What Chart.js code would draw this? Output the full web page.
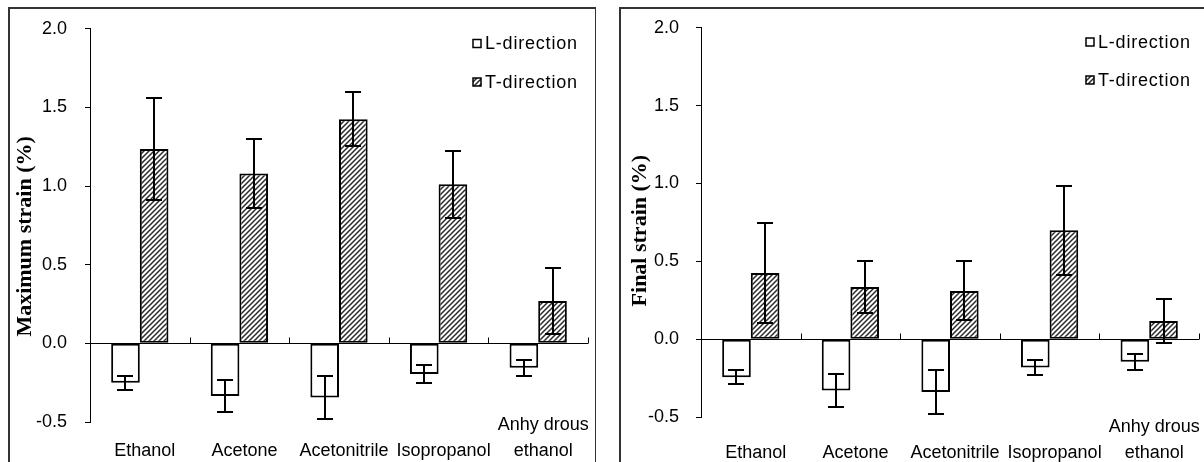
<!DOCTYPE html>
<html><head><meta charset="utf-8">
<script src="https://cdn.jsdelivr.net/npm/chart.js@4"></script>
<style>
html,body{margin:0;padding:0;background:#fff;width:1204px;height:462px;overflow:hidden;position:relative}
.panel{position:absolute;top:7px;height:520px;border-top:2px solid #333;border-left:2px solid #333;box-sizing:border-box}
#p1{left:8px;width:588px;border-right:1px solid #333}
#p2{left:619px;width:600px}
canvas{position:absolute;top:0}
#c1{left:0}
#c2{left:602px}
</style></head><body>
<div class="panel" id="p1"></div><div class="panel" id="p2"></div>
<canvas id="c1" width="602" height="462"></canvas>
<canvas id="c2" width="602" height="462"></canvas>
<script>
// ---- data ----
const categories = [['', 'Ethanol'], ['', 'Acetone'], ['', 'Acetonitrile'], ['', 'Isopropanol'], ['Anhy drous', 'ethanol']];
const seriesNames = ['L-direction', 'T-direction'];
const yTickLabels = ['-0.5', '0.0', '0.5', '1.0', '1.5', '2.0'];

const maxStrainL    = [-0.25, -0.335, -0.345, -0.195, -0.155];
const maxStrainLErr = [0.045, 0.103, 0.138, 0.055, 0.05];
const maxStrainT    = [1.235, 1.08, 1.425, 1.012, 0.27];
const maxStrainTErr = [0.322, 0.219, 0.173, 0.213, 0.21];

const finalStrainL    = [-0.245, -0.33, -0.34, -0.182, -0.145];
const finalStrainLErr = [0.045, 0.105, 0.14, 0.051, 0.052];
const finalStrainT    = [0.425, 0.335, 0.31, 0.70, 0.117];
const finalStrainTErr = [0.324, 0.169, 0.19, 0.285, 0.143];

// ---- styles ----
Chart.defaults.color = '#000';
const SANS = "'Liberation Sans', Arial, sans-serif";
const SERIF = "'Liberation Serif', 'Times New Roman', serif";

function makeHatch() {
  const c = document.createElement('canvas');
  c.width = 5; c.height = 5;
  const g = c.getContext('2d');
  g.fillStyle = '#fff'; g.fillRect(0, 0, 5, 5);
  g.strokeStyle = '#2a2a2a'; g.lineWidth = 1.5;
  g.beginPath();
  g.moveTo(-1, 6); g.lineTo(6, -1);
  g.moveTo(-1, 1); g.lineTo(1, -1);
  g.moveTo(4, 6); g.lineTo(6, 4);
  g.stroke();
  return g.createPattern(c, 'repeat');
}

const errorBars = {
  id: 'errorBars',
  afterDatasetsDraw(chart) {
    const { ctx, scales: { y } } = chart;
    ctx.save();
    ctx.strokeStyle = '#000'; ctx.lineWidth = 2;
    chart.data.datasets.forEach((ds, di) => {
      const meta = chart.getDatasetMeta(di);
      meta.data.forEach((bar, i) => {
        const v = ds.data[i], e = ds.errors[i];
        const yHi = Math.round(y.getPixelForValue(v + e));
        const yLo = Math.round(y.getPixelForValue(v - e));
        const x = Math.round(bar.x), hw = 8;
        ctx.beginPath();
        ctx.moveTo(x, yHi); ctx.lineTo(x, yLo);
        ctx.moveTo(x - hw, yHi); ctx.lineTo(x + hw, yHi);
        ctx.moveTo(x - hw, yLo); ctx.lineTo(x + hw, yLo);
        ctx.stroke();
      });
    });
    ctx.restore();
  }
};

const catTicks = {
  id: 'catTicks',
  afterDatasetsDraw(chart) {
    const { ctx, scales: { x, y } } = chart;
    const y0 = Math.round(y.getPixelForValue(0)) + 0.5;
    const n = chart.data.labels.length;
    ctx.save();
    ctx.strokeStyle = '#000'; ctx.lineWidth = 1;
    ctx.beginPath();
    for (let i = 1; i <= n; i++) {
      const xx = Math.round(x.left + i * x.width / n) + 0.5;
      ctx.moveTo(xx, y0); ctx.lineTo(xx, y0 - 6);
    }
    ctx.stroke();
    ctx.restore();
  }
};

const boxLegend = {
  id: 'boxLegend',
  afterDraw(chart, args, opts) {
    const { ctx } = chart;
    ctx.save();
    chart.data.datasets.forEach((ds, i) => {
      const cy = opts.rows[i];
      ctx.fillStyle = ds.backgroundColor;
      ctx.fillRect(opts.boxX, cy - 4, 8, 8);
      ctx.strokeStyle = '#000'; ctx.lineWidth = 1.5;
      ctx.strokeRect(opts.boxX, cy - 4, 8, 8);
      ctx.fillStyle = '#000';
      ctx.font = '18px ' + SANS;
      ctx.textBaseline = 'middle';
      ctx.textAlign = 'left';
      try { ctx.letterSpacing = '0.8px'; } catch (e) {}
      ctx.fillText(ds.label, opts.textX, cy + 1);
    });
    ctx.restore();
  }
};

function makeChart(id, title, L, LErr, T, TErr, g) {
  const hatch = makeHatch();
  return new Chart(document.getElementById(id), {
    type: 'bar',
    data: {
      labels: categories,
      datasets: [
        { label: seriesNames[0], data: L, errors: LErr, backgroundColor: '#fff', borderColor: '#000', borderWidth: 2, borderSkipped: false },
        { label: seriesNames[1], data: T, errors: TErr, backgroundColor: hatch, borderColor: '#000', borderWidth: 2, borderSkipped: false }
      ]
    },
    options: {
      responsive: false,
      animation: false,
      events: [],
      datasets: { bar: { categoryPercentage: 0.575, barPercentage: 1.0 } },
      layout: { padding: g.padding },
      plugins: { legend: { display: false }, tooltip: { enabled: false }, boxLegend: g.legend },
      scales: {
        x: {
          offset: true,
          grid: { display: false },
          border: { display: false },
          ticks: { font: { family: SANS, size: 18, lineHeight: 26 / 18 }, padding: g.xPad, labelOffset: 5, maxRotation: 0, autoSkip: false },
          afterFit(s) { s.height = g.xHeight; },
          afterUpdate(s) { s._computeLabelArea = function () { return undefined; }; }
        },
        y: {
          min: -0.5, max: 2.0,
          ticks: {
            stepSize: 0.5,
            font: { family: SANS, size: 18 },
            padding: g.yPad,
            callback: (v) => yTickLabels[Math.round((v + 0.5) / 0.5)]
          },
          grid: {
            drawOnChartArea: true,
            tickLength: 5,
            color: (c) => (c.tick && Math.abs(c.tick.value) < 1e-9) ? '#000' : 'rgba(0,0,0,0)',
            tickColor: '#000',
            lineWidth: 1
          },
          border: { display: true, color: '#000', width: 1 },
          title: {
            display: true,
            text: title,
            font: { family: SERIF, size: 22, weight: 'bold', lineHeight: 1.2 },
            padding: { top: g.titlePad, bottom: 0 }
          },
          afterFit(s) { s.width = g.yWidth; }
        }
      }
    },
    plugins: [errorBars, catTicks, boxLegend]
  });
}

makeChart('c1', 'Maximum strain (%)    ', maxStrainL, maxStrainLErr, maxStrainT, maxStrainTErr, {
  padding: { left: 0, right: 14, top: 27, bottom: 0 },
  xHeight: 40, yWidth: 90, xPad: -18, yPad: 18, titlePad: 12,
  legend: { boxX: 473, textX: 485, rows: [43.5, 82] }
});
makeChart('c2', 'Final strain (%)   ', finalStrainL, finalStrainLErr, finalStrainT, finalStrainTErr, {
  padding: { left: 18, right: 5, top: 27, bottom: 0 },
  xHeight: 45, yWidth: 81, xPad: -11, yPad: 17, titlePad: 7,
  legend: { boxX: 484, textX: 496, rows: [42, 80] }
});
</script>
</body></html>
